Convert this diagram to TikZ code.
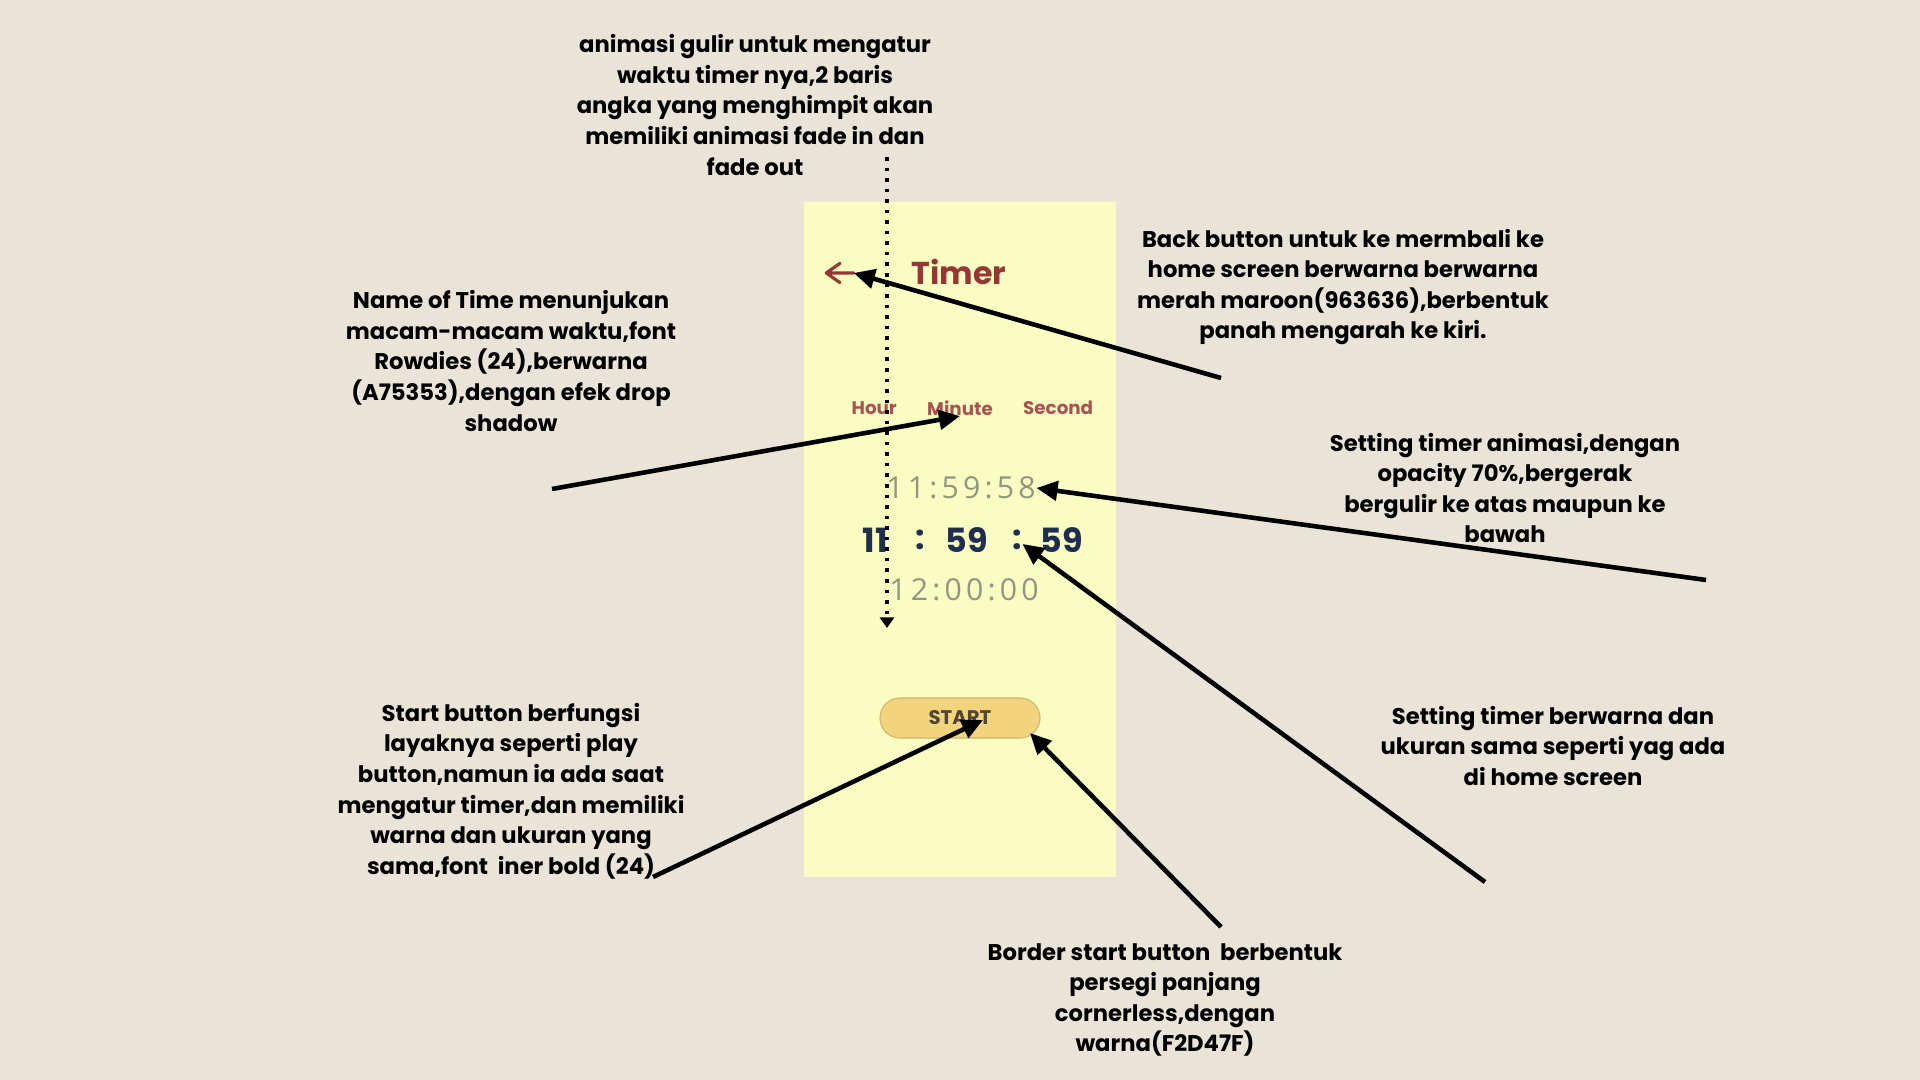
\documentclass[tikz,border=0pt]{standalone}
\usepackage{fontspec}
\setmainfont{Poppins}
\newfontfamily\angkafont{Open Sans}[LetterSpace=14]
\definecolor{kertas}{RGB}{234, 228, 216}
\definecolor{layar}{RGB}{250, 253, 193}
\definecolor{maroon}{HTML}{963636}
\definecolor{merahwaktu}{HTML}{A75353}
\definecolor{kuningtombol}{HTML}{F2D47F}
\definecolor{birutua}{RGB}{31, 45, 79}
\definecolor{pudar}{RGB}{145, 150, 130}
\definecolor{teksmulai}{RGB}{80, 70, 50}
\usetikzlibrary{arrows.meta, positioning}

\begin{document}
\begin{tikzpicture}[x=0.01cm, y=-0.01cm,
    catatan/.style={align=center, inner sep=0pt,
      font=\fontsize{6.45}{8.7}\selectfont\bfseries},
    namawaktu/.style={inner sep=0pt, text=merahwaktu,
      font=\fontsize{5.2}{6}\selectfont\bfseries},
    angkaaktif/.style={inner sep=0pt, text=birutua,
      font=\fontsize{9.5}{11}\selectfont\bfseries},
    angkapudar/.style={inner sep=0pt, text=pudar,
      font=\fontsize{8.6}{10}\selectfont\angkafont},
    panah/.style={draw, line width=1.3pt, -{Triangle[length=6pt,width=5.5pt]}}]

      % kertas dan layar
      \useasboundingbox (0,0) rectangle (1920,1080);
      \fill[kertas] (0,0) rectangle (1920,1080);
      \node[fill=layar, minimum width=3.12cm, minimum height=6.75cm,
            inner sep=0pt] (layarHp) at (960,539.5) {};

      % isi layar timer
      \node[minimum width=0.26cm, minimum height=0.18cm, inner sep=0pt] (kembali) at (840,273) {};
      \draw[maroon, line width=0.9pt, line cap=round, line join=round]
            (kembali.east) -- (kembali.west) (kembali.north) -- (kembali.west) -- (kembali.south);
      \node[text=maroon, inner sep=0pt,
            font=\fontsize{9}{11}\selectfont\bfseries] (judul) at (959,272) {Timer};

      \node[namawaktu] (menit) at (960,408) {Minute};
      \node[namawaktu, left=0.29cm of menit] (jam) {Hour};
      \node[namawaktu, right=0.29cm of menit] (detik) {Second};

      \node[angkapudar] (atas) at (961,488) {11:59:58};
      \node[angkaaktif] (jamAktif) at (875,540) {11};
      \node[angkaaktif] (titik1) at (920,540) {:};
      \node[angkaaktif] (menitAktif) at (967,540) {59};
      \node[angkaaktif] (titik2) at (1017,540) {:};
      \node[angkaaktif] (detikAktif) at (1062,540) {59};
      \node[angkapudar] (bawah) at (964,590) {12:00:00};

      \node[fill=kuningtombol, draw=kuningtombol!85!black, line width=0.3pt,
            rounded corners=0.2cm, minimum width=1.6cm, minimum height=0.4cm,
            text=teksmulai, inner sep=0pt,
            font=\fontsize{5.6}{6}\selectfont\bfseries] (mulai) at (960,718) {START};

      % catatan
      \node[catatan] (catatanGulir) at (755,105)
            {animasi gulir untuk mengatur\\waktu timer nya,2 baris\\angka yang menghimpit akan\\memiliki animasi fade in dan\\fade out};
      \node[catatan] (catatanNama) at (511,361)
            {Name of Time menunjukan\\macam-macam waktu,font\\Rowdies (24),berwarna\\(A75353),dengan efek drop\\shadow};
      \node[catatan] (catatanKembali) at (1343,287)
            {Back button untuk ke mermbali ke\\home screen berwarna berwarna\\merah maroon(963636),berbentuk\\panah mengarah ke kiri.};
      \node[catatan] (catatanAnimasi) at (1505,488)
            {Setting timer animasi,dengan\\opacity 70\%,bergerak\\bergulir ke atas maupun ke\\bawah};
      \node[catatan] (catatanWarna) at (1553,746)
            {Setting timer berwarna dan\\ukuran sama seperti yag ada\\di home screen};
      \node[catatan] (catatanStart) at (511,791)
            {Start button berfungsi\\layaknya seperti play\\button,namun ia ada saat\\mengatur timer,dan memiliki\\warna dan ukuran yang\\sama,font\ \ iner bold (24)};
      \node[catatan] (catatanBorder) at (1165,1000)
            {Border start button\ \ berbentuk\\persegi panjang\\cornerless,dengan\\warna(F2D47F)};

      % ujung bebas panah
      \coordinate (gulirAtas) at (887,157);
      \coordinate (gulirBawah) at (887,628);
      \coordinate (ekorKembali) at (1221,378);
      \coordinate (ekorNama) at (552,489);
      \coordinate (ekorAnimasi) at (1706,580);
      \coordinate (ekorWarna) at (1485,882);
      \coordinate (ekorStart) at (653,877);
      \coordinate (ujungStart) at (983,720);
      \coordinate (ekorBorder) at (1221,927);
      \coordinate (ujungBorder) at (1030,733);

      \draw[dotted, line width=1pt, -{Triangle[length=3pt,width=4pt]}] (gulirAtas) -- (gulirBawah);
      \draw[panah] (ekorKembali) -- (kembali.east);
      \draw[panah] (ekorNama) -- (menit.south);
      \draw[panah] (ekorAnimasi) -- (atas.east);
      \draw[panah] (ekorWarna) -- (titik2);
      \draw[panah] (ekorStart) -- (ujungStart);
      \draw[panah] (ekorBorder) -- (ujungBorder);
    \end{tikzpicture}
\end{document}
